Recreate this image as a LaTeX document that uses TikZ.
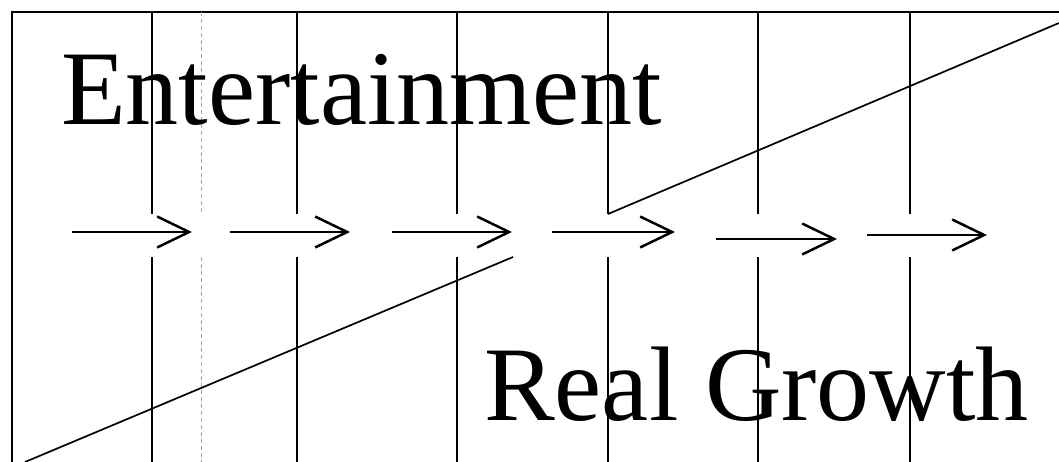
\documentclass[tikz,border=0pt]{standalone}
\usepackage{fontspec}
\setmainfont{Liberation Serif}
\usetikzlibrary{arrows.meta}

\begin{document}
\begin{tikzpicture}[x=1pt,y=-1pt,>={Straight Barb[length=32pt,width=31pt]},
    grid/.style={line width=1.5pt},
    flow/.style={line width=2.5pt,->},
    bigword/.style={anchor=base west,inner sep=0pt,font=\fontsize{106}{110}\selectfont}]
    \useasboundingbox (0,0) rectangle (1059,462);
    % Frame: top edge and left edge only
    \coordinate (TL) at (12,12);
    \coordinate (TR) at (1059,12);
    \coordinate (BL) at (12,462);
    \draw[grid] (TR) -- (TL) -- (BL);
    % Vertical rules, broken around the row of arrows
    \foreach \x in {152,297,457,608,758,910} {
        \draw[grid] (\x,12) -- (\x,214);
        \draw[grid] (\x,257) -- (\x,462);
    }
    \draw[line width=1pt,gray!70,dash pattern=on 4pt off 3pt] (201,12) -- (201,214);
    \draw[line width=1pt,gray!70,dash pattern=on 4pt off 3pt] (201,257) -- (201,462);
    % Rising lines
    \coordinate (Low0) at (25,462);
    \coordinate (Low1) at (513,257);
    \coordinate (Up0) at (608,214);
    \coordinate (Up1) at (1059,23);
    \draw[line width=1.7pt] (Low0) -- (Low1);
    \draw[line width=1.7pt] (Up0) -- (Up1);
    % Row of arrows
    \foreach \a/\b/\y [count=\i] in {72/192/232,230/350/232,392/512/232,552/675/232,716/837/239,867/987/235} {
        \coordinate (s\i) at (\a,\y);
        \coordinate (e\i) at (\b,\y);
        \draw[flow] (s\i) -- (e\i);
    }
    % Words
    \node[bigword] (ent) at (61,125) {Entertainment};
    \node[bigword] (grow) at (484,420) {Real Growth};
\end{tikzpicture}
\end{document}
